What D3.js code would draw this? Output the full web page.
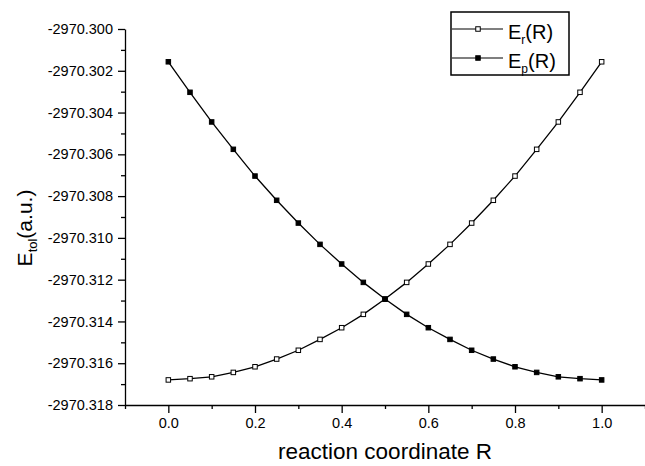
<!DOCTYPE html>
<html>
<head>
<meta charset="utf-8">
<script src="https://cdn.jsdelivr.net/npm/d3@7"></script>
<style>
  body { margin: 0; background: #fff; }
  svg { display: block; font-family: "Liberation Sans", Arial, sans-serif; }
  .axis path, .axis line { stroke: #000; stroke-width: 1.3; }
  .axis text { fill: #000; font-size: 14.5px; font-family: "Liberation Sans", Arial, sans-serif; }
</style>
</head>
<body>
<svg id="chart"></svg>
<script>
// reaction coordinate values
const coordR = [0.00, 0.05, 0.10, 0.15, 0.20, 0.25, 0.30, 0.35, 0.40, 0.45, 0.50,
                0.55, 0.60, 0.65, 0.70, 0.75, 0.80, 0.85, 0.90, 0.95, 1.00];

// E_r(R), open squares
const energyR = [-2970.31680, -2970.31674, -2970.31665, -2970.31644, -2970.31617, -2970.31580,
                 -2970.31538, -2970.31486, -2970.31430, -2970.31366, -2970.31293,
                 -2970.31213, -2970.31125, -2970.31031, -2970.30929, -2970.30820,
                 -2970.30704, -2970.30576, -2970.30445, -2970.30303, -2970.30157];

// E_p(R), filled squares
const energyP = [-2970.30157, -2970.30303, -2970.30445, -2970.30576, -2970.30704, -2970.30820,
                 -2970.30929, -2970.31031, -2970.31125, -2970.31213, -2970.31293,
                 -2970.31366, -2970.31430, -2970.31486, -2970.31538, -2970.31580,
                 -2970.31617, -2970.31644, -2970.31665, -2970.31674, -2970.31680];

const xTicks = [0.0, 0.2, 0.4, 0.6, 0.8, 1.0];
const xMinorTicks = [-0.1, 0.1, 0.3, 0.5, 0.7, 0.9, 1.1];
const yTickLabels = ["-2970.300", "-2970.302", "-2970.304", "-2970.306", "-2970.308",
                     "-2970.310", "-2970.312", "-2970.314", "-2970.316", "-2970.318"];
const yMinorTicks = [-2970.301, -2970.303, -2970.305, -2970.307, -2970.309,
                     -2970.311, -2970.313, -2970.315, -2970.317];

const width = 645, height = 466;
const margin = { top: 29, right: 0, bottom: 61, left: 125 };

const svg = d3.select('#chart')
    .attr('width', width)
    .attr('height', height);

const xScale = d3.scaleLinear()
    .domain([-0.1, 1.1])
    .range([margin.left, width - margin.right]);

const yScale = d3.scaleLinear()
    .domain([-2970.318, -2970.300])
    .range([height - margin.bottom, margin.top]);

// minor ticks first, then the labelled axes on top
svg.append('g')
    .attr('class', 'axis')
    .attr('transform', `translate(0,${height - margin.bottom})`)
    .call(d3.axisBottom(xScale).tickValues(xMinorTicks).tickSize(4).tickFormat(''))
    .select('.domain').remove();

svg.append('g')
    .attr('class', 'axis')
    .attr('transform', `translate(${margin.left},0)`)
    .call(d3.axisLeft(yScale).tickValues(yMinorTicks).tickSize(4).tickFormat(''))
    .select('.domain').remove();

svg.append('g')
    .attr('class', 'axis x-axis')
    .attr('transform', `translate(0,${height - margin.bottom})`)
    .call(d3.axisBottom(xScale).tickValues(xTicks).tickSize(8).tickSizeOuter(0).tickPadding(5)
        .tickFormat(d => d.toFixed(1)));

svg.append('g')
    .attr('class', 'axis y-axis')
    .attr('transform', `translate(${margin.left},0)`)
    .call(d3.axisLeft(yScale).tickValues(yTickLabels.map(Number)).tickSize(7).tickSizeOuter(0).tickPadding(5)
        .tickFormat((d, i) => yTickLabels[i]));

// axis titles
svg.append('text')
    .attr('x', (margin.left + width - margin.right) / 2)
    .attr('y', 459)
    .attr('text-anchor', 'middle')
    .attr('font-size', 22.5)
    .text('reaction coordinate R');

const yTitle = svg.append('text')
    .attr('transform', `translate(32,228) rotate(-90)`)
    .attr('text-anchor', 'middle')
    .attr('font-size', 21);
yTitle.append('tspan').text('E');
yTitle.append('tspan').attr('font-size', 13).attr('dy', 5).text('tol');
yTitle.append('tspan').attr('dy', -5).text('(a.u.)');

// series
const series = [
    { name: 'r', values: energyR, fill: '#fff' },
    { name: 'p', values: energyP, fill: '#000' }
];

const line = d3.line()
    .x((d, i) => xScale(coordR[i]))
    .y(d => yScale(d));

const markerSize = 4.5;

series.forEach(s => {
    svg.append('path')
        .datum(s.values)
        .attr('fill', 'none')
        .attr('stroke', '#000')
        .attr('stroke-width', 1.3)
        .attr('d', line);

    svg.append('g')
        .selectAll('rect')
        .data(s.values)
        .join('rect')
        .attr('x', (d, i) => xScale(coordR[i]) - markerSize / 2)
        .attr('y', d => yScale(d) - markerSize / 2)
        .attr('width', markerSize)
        .attr('height', markerSize)
        .attr('fill', s.fill)
        .attr('stroke', '#000')
        .attr('stroke-width', 1);
});

// legend
const legend = svg.append('g').attr('transform', 'translate(451,12)');
legend.append('rect')
    .attr('width', 118)
    .attr('height', 63)
    .attr('fill', '#fff')
    .attr('stroke', '#000')
    .attr('stroke-width', 1.5);

series.forEach((s, i) => {
    const cy = 17 + i * 29;
    legend.append('line')
        .attr('x1', 1).attr('x2', 52)
        .attr('y1', cy).attr('y2', cy)
        .attr('stroke', '#000')
        .attr('stroke-width', 1.1);
    legend.append('rect')
        .attr('x', 27 - markerSize / 2)
        .attr('y', cy - markerSize / 2)
        .attr('width', markerSize)
        .attr('height', markerSize)
        .attr('fill', s.fill)
        .attr('stroke', '#000');
    const t = legend.append('text')
        .attr('x', 57)
        .attr('y', cy + 10)
        .attr('font-size', 20);
    t.append('tspan').text('E');
    t.append('tspan').attr('font-size', 12).attr('dy', 5).text(s.name);
    t.append('tspan').attr('dy', -5).text('(R)');
});
</script>
</body>
</html>
